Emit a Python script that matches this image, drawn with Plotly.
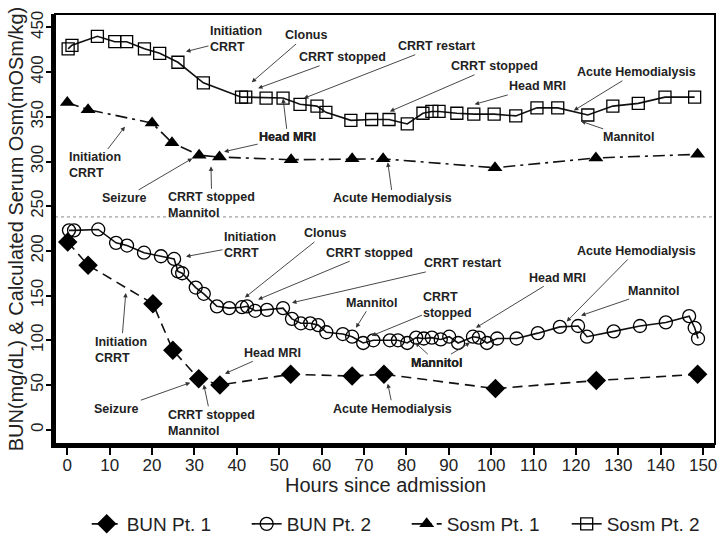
import plotly.graph_objects as go

# ---------------- data ----------------
bun1_x = [0.1, 4.9, 20.2, 24.9, 31.0, 36.0, 52.7, 67.2, 74.7, 101.0, 124.8, 148.7]
bun1_y = [210, 184, 141, 89, 57, 50, 62, 60, 62, 46, 55, 62]

bun2_x = [0.4, 1.6, 7.3, 11.5, 14.1, 18.1, 22.1, 25.2, 26.1, 27.1, 30.3, 32.2, 35.3,
          38.2, 41.2, 42.4, 44.3, 47.1, 50.9, 53.0, 55.1, 57.3, 59.2, 61.1, 65.0,
          67.2, 69.8, 72.2, 76.1, 78.0, 80.2, 82.3, 84.1, 86.0, 88.1, 90.1, 92.2, 95.7,
          97.1, 99.0, 101.4, 106.0, 111.0, 116.2, 120.5, 122.6, 128.9, 135.1, 141.2,
          146.7, 148.0, 148.8]
bun2_y = [223, 223, 224, 209, 206, 198, 194, 191, 177, 175, 159, 152, 138,
          136, 137, 138, 133, 134, 136, 124, 119, 119, 117, 109, 107,
          104, 97, 100, 100, 100, 97, 103, 102, 103, 101, 104, 97, 104,
          103, 97, 102, 102, 108, 115, 116, 104, 110, 116, 120,
          127, 114, 102]

sosm1_x = [0.0, 4.9, 20.0, 24.7, 31.1, 35.9, 52.8, 67.2, 74.5, 100.9, 124.7, 148.7]
sosm1_y = [366, 358, 343, 321, 307, 305, 302, 303, 303, 293, 304, 308]

sosm2_x = [0.2, 1.1, 7.1, 11.2, 14.0, 18.2, 21.8, 26.1, 32.1, 41.1, 42.1, 46.9, 50.9,
           54.9, 58.9, 61.0, 66.9, 71.8, 75.9, 80.2, 83.9, 86.0, 87.7, 91.9, 95.9,
           100.7, 105.8, 110.8, 115.7, 122.8, 128.7, 134.7, 141.0, 148.0]
sosm2_y = [426, 430, 440, 434, 434, 426, 421, 411, 388, 372, 372, 371, 371,
           364, 362, 355, 346, 347, 347, 342, 354, 356, 356, 354, 353,
           353, 351, 360, 360, 352, 362, 365, 372, 372]

x_ticks = list(range(0, 151, 10))
y_ticks = list(range(0, 451, 50))
ref_line_y = 238

# annotations: (text, text_x, text_y, head_x, head_y, align)
notes = [
    ("Initiation<br>CRRT", 39.8, 437, 28.0, 423, "left"),
    ("Clonus", 56.3, 441, 43.5, 388.6, "center"),
    ("CRRT stopped", 65.0, 416.6, 45.0, 381.9, "center"),
    ("CRRT restart", 87.2, 429, 55.8, 370.7, "center"),
    ("CRRT stopped", 100.7, 406.5, 76.1, 356, "center"),
    ("Head MRI", 111.0, 384, 96.1, 364, "center"),
    ("Acute Hemodialysis", 134.2, 399.8, 119.5, 357, "center"),
    ("Mannitol", 132.3, 327, 121.2, 345, "center"),
    ("Initiation<br>CRRT", 6.6, 295.6, 13.6, 339, "left"),
    ("Seizure", 13.4, 258.7, 29.5, 303.5, "center"),
    ("CRRT stopped<br>Mannitol", 34.1, 251, 33.9, 294.5, "left"),
    ("Head MRI", 52.0, 327, 50.9, 370.5, "center"),
    ("Head MRI", 52.0, 327, 37.0, 311, "center"),
    ("Acute Hemodialysis", 76.8, 258.7, 75.6, 299, "center"),
    ("Initiation<br>CRRT", 43.1, 207, 28.0, 193.7, "left"),
    ("Clonus", 60.8, 219.5, 41.9, 147.8, "center"),
    ("CRRT stopped", 71.4, 198, 45.0, 145.6, "center"),
    ("CRRT restart", 93.3, 186, 53.0, 142, "center"),
    ("Mannitol", 71.8, 142, 68.1, 114, "center"),
    ("CRRT<br>stopped", 89.8, 140, 71.8, 105, "left"),
    ("Mannitol", 87.2, 75, 82.1, 97.4, "center"),
    ("Mannitol", 87.2, 75, 95.0, 97.4, "center"),
    ("Head MRI", 115.7, 170, 96.4, 114, "center"),
    ("Acute Hemodialysis", 134.2, 200, 117.8, 121, "center"),
    ("Mannitol", 138.4, 155.6, 121.2, 127.7, "center"),
    ("Head MRI", 48.3, 86, 37.2, 62.7, "center"),
    ("Seizure", 11.7, 23.5, 29.0, 52.6, "center"),
    ("Initiation<br>CRRT", 12.7, 89.6, 13.8, 153, "left"),
    ("CRRT stopped<br>Mannitol", 34.1, 7.8, 32.2, 50.4, "left"),
    ("Acute Hemodialysis", 76.8, 23.5, 75.6, 51.5, "center"),
]

# ---------------- figure ----------------
fig = go.Figure()
line_col = "#111111"

fig.add_trace(go.Scatter(
    x=bun1_x, y=bun1_y, name="BUN Pt. 1", mode="lines+markers",
    line=dict(color=line_col, width=1.6, dash="10px,6px"),
    marker=dict(symbol="diamond", size=15, color="black")))
fig.add_trace(go.Scatter(
    x=bun2_x, y=bun2_y, name="BUN Pt. 2", mode="lines+markers",
    line=dict(color=line_col, width=1.6),
    marker=dict(symbol="circle-open", size=13, color="black", line=dict(width=1.3))))
fig.add_trace(go.Scatter(
    x=sosm1_x, y=sosm1_y, name="Sosm Pt. 1", mode="lines+markers",
    line=dict(color=line_col, width=1.6, dash="12px,5px,3px,5px"),
    marker=dict(symbol="triangle-up", size=13, color="black")))
fig.add_trace(go.Scatter(
    x=sosm2_x, y=sosm2_y, name="Sosm Pt. 2", mode="lines+markers",
    line=dict(color=line_col, width=1.6),
    marker=dict(symbol="square-open", size=12, color="black", line=dict(width=1.3))))

fig.add_shape(type="line", xref="paper", x0=0, x1=1, yref="y", y0=ref_line_y, y1=ref_line_y,
              line=dict(color="#888888", width=1, dash="dot"))
fig.add_shape(type="rect", xref="paper", yref="paper", x0=0, x1=1, y0=0, y1=1,
              line=dict(color="black", width=2), layer="above")

for text, tx, ty, hx, hy, al in notes:
    fig.add_annotation(
        x=hx, y=hy, ax=tx, ay=ty, xref="x", yref="y", axref="x", ayref="y",
        text="<b>" + text + "</b>", align=al, showarrow=True,
        arrowhead=2, arrowsize=1, arrowwidth=0.9, arrowcolor="#333333",
        font=dict(family="Liberation Sans, Arial, sans-serif", size=12.5, color="#222222"))

tick_font = dict(family="Liberation Sans, Arial, sans-serif", size=17, color="#222222")
title_font = dict(family="Liberation Sans, Arial, sans-serif", size=20, color="#222222")

# x-axis title as paper annotation (sits close under the tick labels)
fig.add_annotation(x=0.5, y=-0.095, xref="paper", yref="paper", xanchor="center",
                   yanchor="middle", text="Hours since admission", showarrow=False,
                   font=title_font)

fig.update_layout(
    width=720, height=535,
    margin=dict(l=55, r=5, t=14, b=91, autoexpand=False),
    paper_bgcolor="white", plot_bgcolor="white",
    showlegend=True,
    legend=dict(orientation="h", x=0.048, xanchor="left", y=-0.186, yanchor="middle",
                bgcolor="rgba(0,0,0,0)",
                font=dict(family="Liberation Sans, Arial, sans-serif", size=19, color="#222222"),
                traceorder="normal", entrywidth=115, entrywidthmode="pixels"),
    xaxis=dict(range=[-2.9, 152.8], tickvals=x_ticks, ticks="outside", ticklen=7,
               tickwidth=1.5, tickcolor="black", showgrid=False, zeroline=False,
               showline=True, linewidth=3.5, linecolor="black", mirror=False,
               tickfont=tick_font, automargin=False, ticklabelstandoff=-4),
    yaxis=dict(range=[-16, 465], tickvals=y_ticks, ticks="outside", ticklen=5,
               tickwidth=1.5, tickcolor="black", showgrid=False, zeroline=False,
               showline=True, linewidth=3.5, linecolor="black", mirror=False,
               tickangle=-90, tickfont=tick_font, automargin=False, ticklabelstandoff=-4,
               title=dict(text="BUN(mg/dL) & Calculated Serum Osm(mOSm/kg)",
                          font=title_font, standoff=0)),
)

fig.write_html("out.html", post_script="document.body.style.margin='0px';",
               config={"displayModeBar": False})
